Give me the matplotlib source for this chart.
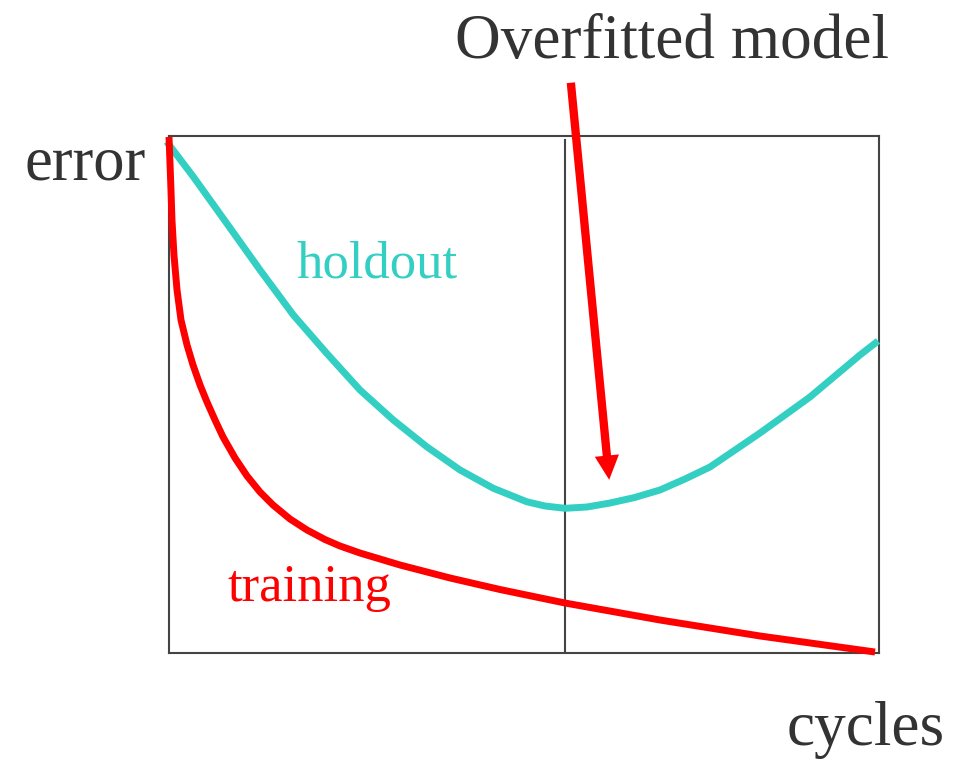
import matplotlib
matplotlib.use('Agg')
import matplotlib.pyplot as plt

# holdout error (turquoise)
holdout_x = [-0.032, 0.342, 0.813, 1.282, 1.751, 2.221, 2.690, 3.159, 3.630, 4.099,
             4.568, 5.038, 5.296, 5.577, 5.887, 6.211, 6.560, 6.915, 7.268, 7.620,
             7.972, 8.324, 8.676, 9.028, 9.380, 9.732, 9.986]
holdout_y = [9.890, 9.213, 8.311, 7.408, 6.538, 5.797, 5.087, 4.507, 3.990, 3.540,
             3.186, 2.926, 2.843, 2.799, 2.824, 2.901, 3.008, 3.153, 3.366, 3.598,
             3.926, 4.255, 4.603, 4.952, 5.358, 5.764, 6.035]

# training error (red)
training_x = [0.000, 0.014, 0.028, 0.042, 0.070, 0.113, 0.169, 0.254, 0.338, 0.437,
              0.535, 0.648, 0.761, 0.930, 1.099, 1.282, 1.465, 1.704, 1.944, 2.197,
              2.408, 2.690, 2.972, 3.254, 3.958, 4.662, 5.577, 6.915, 8.324, 9.944]
training_y = [9.981, 9.478, 8.956, 8.375, 7.698, 7.021, 6.441, 5.957, 5.571, 5.184,
              4.855, 4.507, 4.178, 3.772, 3.424, 3.114, 2.863, 2.592, 2.379, 2.195,
              2.070, 1.934, 1.818, 1.702, 1.451, 1.228, 0.967, 0.638, 0.329, 0.019]

overfit_x = 5.58      # vertical marker at the holdout minimum
arrow_start = (5.66, 11.03)
arrow_tip = (6.20, 3.35)

plt.rcParams['font.family'] = ['Liberation Serif', 'DejaVu Serif']

fig = plt.figure(figsize=(9.59, 7.66), dpi=100)
ax = fig.add_axes([169 / 959, 1 - 653 / 766, 710 / 959, 517 / 766])
ax.set_xlim(0, 10)
ax.set_ylim(0, 10)
ax.set_xticks([])
ax.set_yticks([])
for s in ax.spines.values():
    s.set_color('#444444')
    s.set_linewidth(1.5)

ax.plot([overfit_x, overfit_x], [0, 9.92], color='#444444', lw=1.5, zorder=1)
ax.plot(holdout_x, holdout_y, color='#33CFC3', lw=5, solid_capstyle='butt',
        solid_joinstyle='round', clip_on=False, zorder=3)
ax.plot(training_x, training_y, color='#FF0000', lw=5, solid_capstyle='butt',
        solid_joinstyle='round', clip_on=False, zorder=3)

ax.annotate('', xy=arrow_tip, xytext=arrow_start, xycoords='data',
            annotation_clip=False,
            arrowprops=dict(arrowstyle='simple,head_length=1.75,head_width=1.75,tail_width=0.6',
                            mutation_scale=10, color='#FF0000', lw=0,
                            shrinkA=0, shrinkB=0))

txt = '#333333'
ax.text(4.03, 11.51, 'Overfitted model', fontsize=45.5, color=txt, ha='left', va='baseline', clip_on=False)
ax.text(-2.03, 9.15, 'error', fontsize=45, color=txt, ha='left', va='baseline', clip_on=False)
ax.text(8.70, -1.78, 'cycles', fontsize=45.5, color=txt, ha='left', va='baseline', clip_on=False)
ax.text(1.80, 7.27, 'holdout', fontsize=38, color='#33CFC3', ha='left', va='baseline')
ax.text(0.82, 1.01, 'training', fontsize=38, color='#FF0000', ha='left', va='baseline')

fig.savefig('out.png', dpi=100)
